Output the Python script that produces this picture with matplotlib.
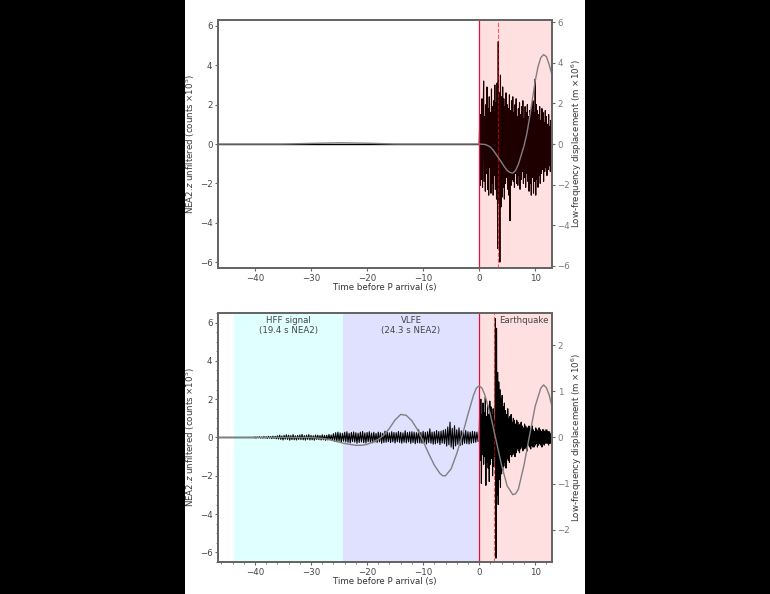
import numpy as np
import matplotlib
matplotlib.use('Agg')
import matplotlib.pyplot as plt
from matplotlib.patches import Rectangle
from matplotlib.ticker import MultipleLocator

# ---- data ----
dt_quake = 0.1      # sample spacing used for the earthquake part (s)
dt_pre = 0.2        # sample spacing used for the pre-arrival part (s)

# top panel: unfiltered trace (x1e5 counts)
top_pre_t = [-47.0, 0.0]
top_pre = [0.0, 0.0]
top_quake = [
    0, 1.2, -2.1, 1.5, -1.8, 2.3, -2.2, 1.0, 3.2, -1.9, 1.4,
    -2.4, 2.0, -1.5, 2.9, -2.3, 1.8, -2.6, 2.4, -1.2, 1.6,
    -2.5, 2.8, -2.0, 1.9, -2.6, 2.2, -1.6, 3.0, -2.3, 2.1,
    -2.8, 3.1, -5.3, 5.2, -3.0, 2.6, -6.0, 3.5, -3.2, 2.4,
    -2.7, 2.9, -2.2, 2.3, -2.8, 1.9, -2.0, 2.6, -1.7, 2.0,
    -2.3, 1.8, -2.6, 2.5, -3.9, 1.7, -2.1, 2.2, -1.8, 2.4,
    -1.9, 1.6, -2.2, 2.0, -1.5, 2.3, -2.0, 1.4, -2.1, 1.8,
    -1.6, 2.1, -2.3, 1.5, -1.8, 1.9, -1.4, 2.2, -2.0, 1.3,
    -1.7, 1.9, -2.2, 1.6, -1.5, 2.0, -1.9, 1.4, -2.4, 1.7,
    -2.0, 1.5, -2.6, 1.9, -1.7, 2.2, -2.5, 1.6, -1.9, 3.3,
    -2.6, 2.0, -1.8, 1.7, -2.2, 1.5, -1.6, 1.9, -2.0, 1.2,
    -1.5, 1.8, -1.3, 1.6, -1.9, 1.1, -1.4, 1.7, -1.2, 1.4,
    -1.6, 1.0, -1.3, 1.5, -1.1, 0.9, -1.4, 1.2, -0.9, 0.8,
]
# top panel: low-frequency displacement (x1e6 m)
top_lf_t = [-47, -35, -30, -25, -20, -15, 0, 1, 1.5, 2, 2.5, 3, 3.5, 4, 4.5, 5, 5.5, 6,
            6.5, 7, 7.5, 8, 8.5, 9, 9.5, 10, 10.5, 11, 11.5, 12, 12.5, 13]
top_lf = [0, 0, 0.03, 0.06, 0.04, 0, 0, -0.02, -0.07, -0.15, -0.3, -0.5, -0.7, -0.9, -1.12,
          -1.3, -1.4, -1.43, -1.3, -1.0, -0.55, -0.1, 0.5, 1.3, 2.2, 3.1, 3.8, 4.25, 4.4,
          4.3, 3.9, 3.4]
top_pick = 3.45

# bottom panel: unfiltered trace (x1e5 counts)
bot_quiet_t = [-47.0, -40.0]
bot_quiet = [0.0, 0.0]
bot_pre = [
    0.02, -0.03, 0.03, -0.02, 0.04, -0.03, 0.03, -0.04, 0.05, -0.03,
    0.04, -0.05, 0.06, -0.04, 0.05, -0.06, 0.07, -0.05, 0.06, -0.07,
    0.09, -0.08, 0.12, -0.1, 0.08, -0.13, 0.11, -0.09, 0.14, -0.1,
    0.12, -0.14, 0.1, -0.11, 0.15, -0.12, 0.09, -0.13, 0.11, -0.1,
    0.13, -0.11, 0.16, -0.12, 0.1, -0.14, 0.12, -0.1, 0.15, -0.13,
    0.11, -0.12, 0.09, -0.14, 0.13, -0.1, 0.12, -0.11, 0.1, -0.13,
    0.14, -0.12, 0.11, -0.15, 0.12, -0.13, 0.16, -0.11, 0.13, -0.14,
    0.2, -0.18, 0.25, -0.22, 0.28, -0.2, 0.24, -0.26, 0.22, -0.19,
    0.27, -0.23, 0.3, -0.25, 0.22, -0.28, 0.26, -0.21, 0.29, -0.24,
    0.25, -0.3, 0.22, -0.26, 0.28, -0.23, 0.31, -0.27, 0.24, -0.29,
    0.26, -0.22, 0.3, -0.25, 0.23, -0.28, 0.27, -0.24, 0.21, -0.26,
    0.28, -0.23, 0.25, -0.3, 0.22, -0.26, 0.33, -0.25, 0.27, -0.22,
    0.24, -0.27, 0.3, -0.23, 0.26, -0.29, 0.25, -0.22, 0.31, -0.26,
    0.27, -0.3, 0.24, -0.25, 0.35, -0.28, 0.26, -0.23, 0.29, -0.31,
    0.3, -0.26, 0.28, -0.33, 0.25, -0.27, 0.4, -0.29, 0.26, -0.3,
    0.32, -0.28, 0.27, -0.34, 0.3, -0.26, 0.45, -0.3, 0.28, -0.35,
    0.3, -0.33, 0.36, -0.28, 0.31, -0.37, 0.33, -0.29, 0.38, -0.32,
    0.42, -0.45, 0.55, -0.38, 0.8, -0.5, 0.48, -0.6, 0.62, -0.44,
    0.4, -0.36, 0.5, -0.42, 0.35, -0.38, 0.33, -0.3, 0.36, -0.32,
    0.3, -0.34, 0.28, -0.3, 0.32, -0.27, 0.3, -0.25, 0.28, -0.2,
]
bot_quake = [
    0, 1.5, -1.2, 2.0, -2.4, 1.2, -0.9, 1.8, -1.4, 1.3,
    -1.0, 2.1, -2.5, 1.1, -1.3, 1.7, -1.6, 1.2, -2.3, 1.9,
    -1.4, 1.6, -1.1, 1.2, -2.0, 1.5, -1.5, 0.9, -1.0, 6.2,
    -6.3, 5.7, -3.0, 3.4, -3.5, 2.9, -2.2, 2.5, -2.6, 2.0,
    -1.9, 2.2, -1.7, 1.6, -1.5, 1.8, -1.3, 1.4, -1.6, 1.2,
    -1.1, 1.5, -1.2, 1.0, -1.3, 1.1, -0.9, 1.2, -1.0, 0.8,
    -0.9, 1.0, -0.8, 0.9, -1.0, 0.7, -0.8, 0.9, -0.6, 0.8,
    -0.7, 0.6, -0.8, 0.7, -0.6, 0.8, -0.5, 0.6, -0.7, 0.5,
    -0.6, 0.7, -0.5, 0.6, -0.6, 0.5, -0.7, 0.5, -0.4, 0.6,
    -0.5, 0.4, -0.6, 0.5, -0.4, 0.6, -0.5, 0.4, -0.5, 0.3,
    -0.4, 0.5, -0.3, 0.4, -0.5, 0.3, -0.4, 0.5, -0.3, 0.4,
    -0.4, 0.3, -0.5, 0.4, -0.3, 0.4, -0.4, 0.3, -0.3, 0.4,
    -0.3, 0.4, -0.3, 0.3, -0.4, 0.3, -0.3, 0.2, -0.3, 0.3,
    -0.2,
]
# bottom panel: low-frequency displacement (x1e6 m)
bot_lf_t = [-47, -30, -29, -28, -27, -26, -25, -24, -23, -22, -21, -20, -19, -18, -17, -16,
            -15, -14, -13, -12, -11, -10, -9, -8, -7, -6.5, -6, -5, -4, -3, -2, -1, -0.5,
            0, 0.5, 1, 2, 3, 4, 5, 6, 6.5, 7, 8, 9, 10, 11, 11.5, 12, 12.5, 13]
bot_lf = [0, 0, -0.01, -0.02, -0.04, -0.07, -0.1, -0.13, -0.15, -0.17, -0.17, -0.15, -0.1,
          -0.04, 0.05, 0.2, 0.38, 0.5, 0.48, 0.36, 0.17, -0.08, -0.35, -0.6, -0.78, -0.83,
          -0.83, -0.68, -0.35, 0.05, 0.5, 0.92, 1.07, 1.12, 1.07, 0.93, 0.5, -0.05, -0.6,
          -1.05, -1.24, -1.22, -1.12, -0.6, 0.05, 0.68, 1.07, 1.14, 1.08, 0.92, 0.67]
bot_pick = 2.7

# windows
hff_window = (-43.7, -24.3)
vlfe_window = (-24.3, 0.0)
quake_window = (0.0, 14.0)
hff_label = 'HFF signal\n(19.4 s NEA2)'
vlfe_label = 'VLFE\n(24.3 s NEA2)'
quake_label = 'Earthquake'

xlim = (-46.6, 13.0)

t_top = np.arange(len(top_quake)) * dt_quake
t_bot_pre = -40.0 + np.arange(len(bot_pre)) * dt_pre
t_bot_quake = np.arange(len(bot_quake)) * dt_quake

# ---- figure ----
fig = plt.figure(figsize=(7.7, 5.94), dpi=100, facecolor='black')
fig.add_artist(Rectangle((185 / 770, 0), 400 / 770, 1, transform=fig.transFigure,
                         facecolor='white', edgecolor='none', zorder=-10))

fs = 6.2
spine_c = '#666666'
txt_c = '#333333'
ylab_left = 'NEA2.$z$ unfiltered (counts $\\times10^5$)'
ylab_right = 'Low-frequency displacement (m $\\times10^6$)'

def style(ax, right=False):
    for s in ax.spines.values():
        s.set_color(spine_c)
        s.set_linewidth(1.4)
    ax.tick_params(labelsize=fs, colors=spine_c, labelcolor='#777777' if right else '#444444',
                   length=2.5, width=0.8, pad=1.5)

ax1 = fig.add_axes([0.2831, 0.5488, 0.4338, 0.4175])
ax2 = fig.add_axes([0.2831, 0.0539, 0.4338, 0.4192])

# top
ax1.plot(top_pre_t, top_pre, color='k', lw=1.0)
ax1.plot(t_top, top_quake, color='k', lw=0.8)
ax1.axvspan(*quake_window, color='red', alpha=0.12, lw=0, zorder=3)
ax1.axvline(0, color='crimson', lw=0.9, zorder=4)
ax1.axvline(top_pick, color='red', ls='--', lw=0.8, alpha=0.6, zorder=4)
ax1.set_xlim(xlim)
ax1.set_ylim(-6.3, 6.3)
ax1.set_yticks(np.arange(-6, 7, 2))
ax1.set_xlabel('Time before P arrival (s)', fontsize=fs, color=txt_c, labelpad=0)
ax1.set_ylabel(ylab_left, fontsize=fs, color=txt_c)
ax1.yaxis.set_label_coords(-0.062, 0.5)
style(ax1)
ax1r = ax1.twinx()
ax1r.plot(top_lf_t, top_lf, color='gray', lw=1.0)
ax1r.set_ylim(-6.1, 6.1)
ax1r.set_yticks(np.arange(-6, 7, 2))
ax1r.set_ylabel(ylab_right, fontsize=fs, color=txt_c)
ax1r.yaxis.set_label_coords(1.054, 0.5)
style(ax1r, right=True)

# bottom
ax2.axvspan(*hff_window, color='cyan', alpha=0.12, lw=0)
ax2.axvspan(*vlfe_window, color='blue', alpha=0.12, lw=0)
ax2.axvspan(*quake_window, color='red', alpha=0.12, lw=0)
ax2.plot(bot_quiet_t, bot_quiet, color='k', lw=1.0)
ax2.plot(t_bot_pre, bot_pre, color='k', lw=0.8)
ax2.plot(t_bot_quake, bot_quake, color='k', lw=0.8)
ax2.axvline(0, color='crimson', lw=0.9, zorder=4)
ax2.axvline(bot_pick, color='red', ls='--', lw=0.8, alpha=0.6, zorder=4)
ax2.set_xlim(xlim)
ax2.set_ylim(-6.5, 6.5)
ax2.set_yticks(np.arange(-6, 7, 2))
ax2.xaxis.set_minor_locator(MultipleLocator(2))
ax2.yaxis.set_minor_locator(MultipleLocator(0.5))
ax2.set_xlabel('Time before P arrival (s)', fontsize=fs, color=txt_c, labelpad=0)
ax2.set_ylabel(ylab_left, fontsize=fs, color=txt_c)
ax2.yaxis.set_label_coords(-0.062, 0.5)
style(ax2)
ax2.tick_params(which='minor', length=1.5, width=0.6, colors=spine_c)
ax2.text(np.mean(hff_window), 6.35, hff_label, ha='center', va='top', fontsize=fs, color='#444444')
ax2.text(np.mean(vlfe_window), 6.35, vlfe_label, ha='center', va='top', fontsize=fs, color='#444444')
ax2.text(8.0, 6.35, quake_label, ha='center', va='top', fontsize=fs, color='#444444')
ax2r = ax2.twinx()
ax2r.plot(bot_lf_t, bot_lf, color='gray', lw=1.0)
ax2r.set_ylim(-2.7, 2.7)
ax2r.set_yticks([-2, -1, 0, 1, 2])
ax2r.set_ylabel(ylab_right, fontsize=fs, color=txt_c)
ax2r.yaxis.set_label_coords(1.054, 0.5)
style(ax2r, right=True)

fig.savefig('out.png', dpi=100, facecolor='black')
